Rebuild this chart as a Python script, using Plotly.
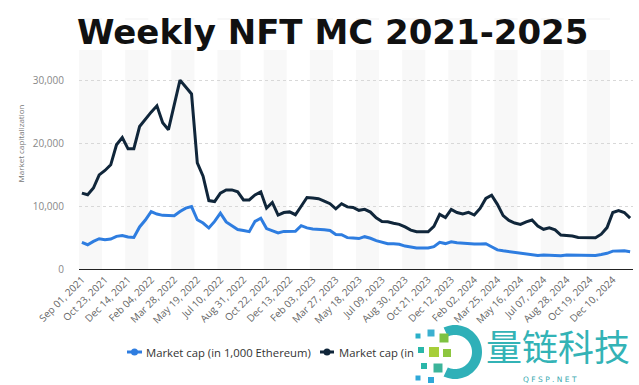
import math
import plotly.graph_objects as go
import pandas as pd

# ---------------- data ----------------
dates = pd.date_range("2021-09-01", periods=96, freq="13D")

tick_labels = ["Sep 01, 2021", "Oct 23, 2021", "Dec 14, 2021", "Feb 04, 2022", "Mar 28, 2022",
               "May 19, 2022", "Jul 10, 2022", "Aug 31, 2022", "Oct 22, 2022", "Dec 13, 2022",
               "Feb 03, 2023", "Mar 27, 2023", "May 18, 2023", "Jul 09, 2023", "Aug 30, 2023",
               "Oct 21, 2023", "Dec 12, 2023", "Feb 02, 2024", "Mar 25, 2024", "May 16, 2024",
               "Jul 07, 2024", "Aug 28, 2024", "Oct 19, 2024", "Dec 10, 2024"]

mc_eth = [4240, 3870, 4400, 4820, 4670, 4780, 5200, 5350, 5100, 5030,
          6700, 7800, 9150, 8750, 8550, 8500, 8480, 9150, 9700, 9950,
          7850, 7320, 6530, 7580, 8900, 7500, 6950, 6300, 6150, 5950,
          7600, 8100, 6450, 6050, 5750, 5990, 5990, 6000, 6900, 6550,
          6370, 6370, 6250, 6150, 5500, 5460, 5000, 4940, 4850, 5150,
          4900, 4520, 4250, 4030, 4030, 3950, 3650, 3500, 3340, 3340,
          3340, 3550, 4250, 4050, 4350, 4200, 4100, 4020, 3990, 4000,
          4030, 3550, 3050, 2900, 2780, 2680, 2580, 2460, 2300, 2150,
          2220, 2200, 2070, 2100, 2220, 2200, 2170, 2140, 2130, 2160,
          2300, 2500, 2850, 2910, 2900, 2750]

mc_usd = [12100, 11830, 12900, 15000, 15700, 16600, 19800, 20960, 19150, 19150,
          22700, 23900, 25000, 26000, 23300, 22200, 26400, 30100, 29000, 27900,
          16900, 14800, 10900, 10750, 12100, 12600, 12600, 12300, 11000, 11000,
          11800, 12300, 9700, 10600, 8600, 9000, 9100, 8650, 10000, 11400,
          11300, 11200, 10800, 10400, 9600, 10400, 9900, 9800, 9350, 9500,
          9070, 8150, 7580, 7530, 7280, 7120, 6700, 6200, 5950, 5920,
          5940, 6800, 8700, 8200, 9500, 9000, 8780, 9020, 8600, 9650,
          11250, 11750, 10300, 8500, 7750, 7330, 7100, 7500, 7800, 6850,
          6330, 6570, 6250, 5400, 5350, 5270, 5030, 4980, 4990, 4990,
          5550, 6600, 9000, 9300, 9000, 8100]

name_eth = "Market cap (in 1,000 Ethereum)"
name_usd = "Market cap (in million U.S. dollars)"

# ---------------- style ----------------
BLUE = "#2e7de0"
DARK = "#10263a"
W, H = 639, 385
L, R, T, B = 79, 633, 18, 269
half = pd.Timedelta(days=6.5)


def px(x):
    return (x - L) / (R - L)


def py(y):
    return (B - y) / (B - T)


fig = go.Figure()
fig.add_trace(go.Scatter(x=dates, y=mc_eth, mode="lines", name=name_eth,
                         line=dict(color=BLUE, width=3), showlegend=False, hoverinfo="skip"))
fig.add_trace(go.Scatter(x=dates, y=mc_usd, mode="lines", name=name_usd,
                         line=dict(color=DARK, width=3), showlegend=False, hoverinfo="skip"))

shapes = []
# alternating bands
for k in range(0, len(dates), 8):
    x0 = dates[k] - half
    x1 = dates[k + 4] - half if k + 4 < len(dates) else dates[-1] + half
    shapes.append(dict(type="rect", xref="x", yref="paper", x0=x0, x1=x1, y0=0, y1=1,
                       fillcolor="#f8f8f8", line=dict(width=0), layer="below"))
# white title backing
shapes.append(dict(type="rect", xref="paper", yref="paper", x0=px(-5), x1=px(W + 5),
                   y0=py(50), y1=py(20), fillcolor="white", line=dict(width=0), layer="above"))

# manual legend symbols
LEG_Y = 352
for (x0, x1, c) in [(127, 142, BLUE), (320, 334, DARK)]:
    shapes.append(dict(type="line", xref="paper", yref="paper", x0=px(x0), x1=px(x1),
                       y0=py(LEG_Y), y1=py(LEG_Y), line=dict(color=c, width=3)))
    cx = (x0 + x1) / 2
    shapes.append(dict(type="circle", xref="paper", yref="paper", x0=px(cx - 3.5), x1=px(cx + 3.5),
                       y0=py(LEG_Y + 3.5), y1=py(LEG_Y - 3.5), fillcolor=c, line=dict(width=0)))

# watermark icon: ring + squares
cxr, cyr, ro, ri = 455, 352, 27, 17
angs = [-115 + i * 5 for i in range(0, 47)]
pts = [(cxr + ro * math.cos(math.radians(a)), cyr + ro * math.sin(math.radians(a))) for a in angs]
pts += [(cxr + ri * math.cos(math.radians(a)), cyr + ri * math.sin(math.radians(a))) for a in reversed(angs)]
path = "M " + " L ".join(f"{px(x):.5f},{py(y):.5f}" for x, y in pts) + " Z"
shapes.append(dict(type="path", xref="paper", yref="paper", path=path,
                   fillcolor="#2fb0b8", line=dict(width=0)))
squares = [(418, 336, 5, "#2ab0c8"), (431, 333, 7, "#3bb0d0"), (444, 338, 9, "#7dc242"),
           (421, 350, 6, "#2ab7a9"), (434, 352, 10, "#a6ce39"), (447, 353, 8, "#8dc63f"),
           (424, 366, 6, "#2ab7a9"), (438, 368, 9, "#3cb49a"), (418, 378, 5, "#2fa8d8"),
           (431, 380, 6, "#2fa8d8")]
for (sx, sy, s, c) in squares:
    shapes.append(dict(type="rect", xref="paper", yref="paper", x0=px(sx - s / 2), x1=px(sx + s / 2),
                       y0=py(sy + s / 2), y1=py(sy - s / 2), fillcolor=c, line=dict(width=0)))

annotations = [
    dict(text="<b>Weekly NFT MC 2021-2025</b>", xref="paper", yref="paper",
         x=px(332), y=py(32), showarrow=False, xanchor="center", yanchor="middle",
         font=dict(family="DejaVu Sans", size=34, color="#111111")),
    # legend texts
    dict(text=name_eth, xref="paper", yref="paper", x=px(145), y=py(LEG_Y), showarrow=False,
         xanchor="left", yanchor="middle", borderpad=0,
         font=dict(family="Open Sans", size=11.3, color="#333333")),
    dict(text=name_usd, xref="paper", yref="paper", x=px(338), y=py(LEG_Y), showarrow=False,
         xanchor="left", yanchor="middle", align="left", width=76, borderpad=0,
         font=dict(family="Open Sans", size=11.3, color="#333333")),
    # watermark text
    dict(text="量链科技", xref="paper", yref="paper", x=px(558), y=py(345), showarrow=False,
         xanchor="center", yanchor="middle",
         font=dict(family="Noto Sans CJK SC", size=36, color="#33b3b6")),
    dict(text="Q F S P . N E T", xref="paper", yref="paper", x=px(550), y=py(379), showarrow=False,
         xanchor="center", yanchor="middle",
         font=dict(family="DejaVu Sans", size=7.5, color="#3aa9b0")),
]

fig.update_layout(
    width=W, height=H,
    margin=dict(l=L, r=W - R, t=T, b=H - B, autoexpand=False),
    paper_bgcolor="white", plot_bgcolor="white",
    font=dict(family="Open Sans", color="#666666"),
    shapes=shapes, annotations=annotations,
    showlegend=False,
)
fig.update_xaxes(
    range=[dates[0] - half, dates[-1] + half],
    tickvals=list(dates[::4]), ticktext=tick_labels, tickangle=-45,
    tickfont=dict(family="Open Sans", size=10, color="#666666"),
    showgrid=False, zeroline=False, showline=True, linecolor="#222222", linewidth=1,
    ticks="", fixedrange=True, automargin=False,
)
fig.update_yaxes(
    range=[0, 40000], tickvals=[0, 10000, 20000, 30000, 40000],
    ticktext=["0", "10,000", "20,000", "30,000", ""],
    tickfont=dict(family="Open Sans", size=10, color="#888888"),
    showgrid=True, gridcolor="#d8d8d8", griddash="dot", gridwidth=1,
    zeroline=False, showline=False, ticks="", ticklabelstandoff=14, automargin=False,
    fixedrange=True,
    title=dict(text="Market capitalization", font=dict(family="Open Sans", size=8, color="#777777"),
               standoff=7),
)

fig.write_html("out.html", config={"displayModeBar": False},
               post_script="document.body.style.margin='0';document.body.style.overflow='hidden';")
